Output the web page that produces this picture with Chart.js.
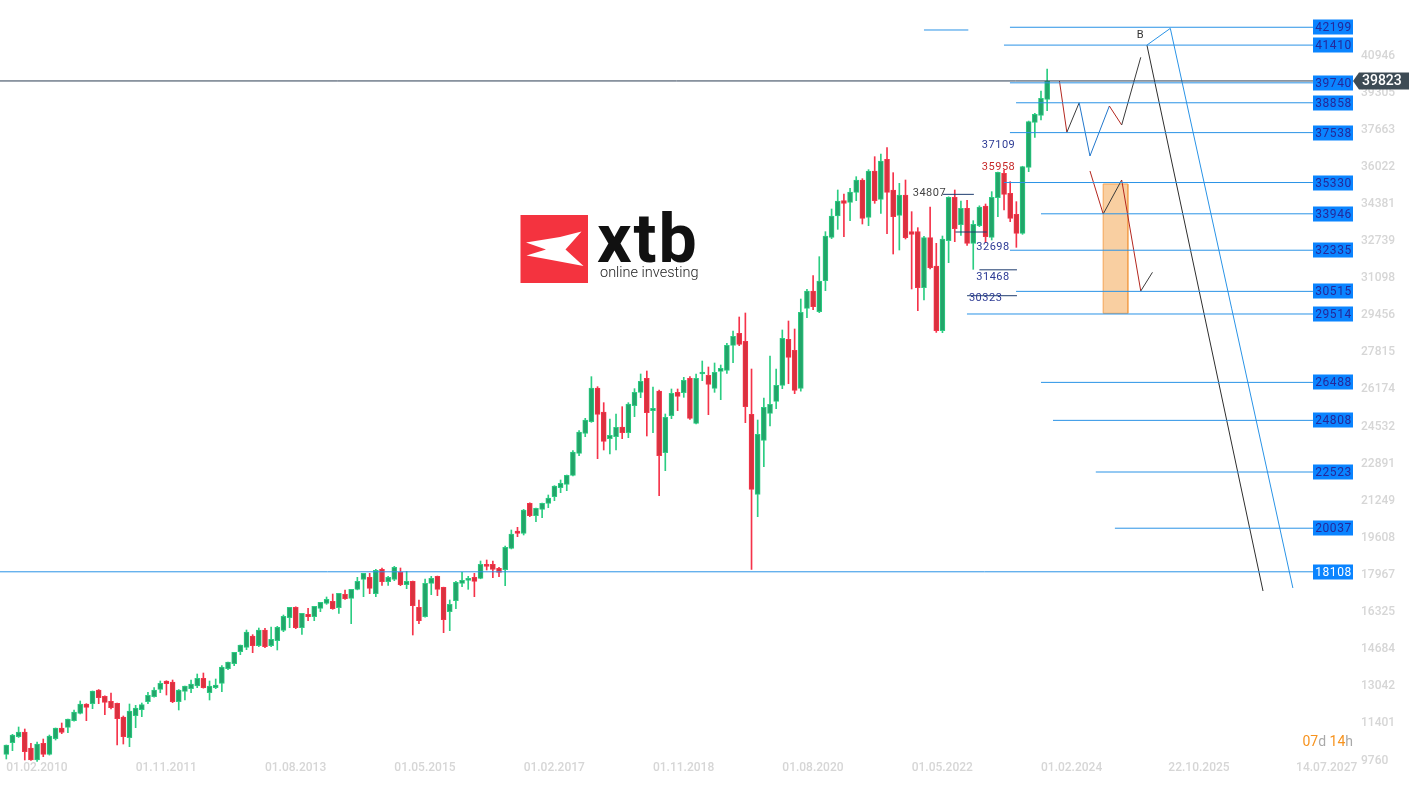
<!DOCTYPE html>
<html>
<head>
<meta charset="utf-8">
<script src="https://cdn.jsdelivr.net/npm/chart.js@4.4.1/dist/chart.umd.min.js"></script>
<style>
  html, body { margin: 0; padding: 0; background: #fff; overflow: hidden; }
</style>
</head>
<body>
<canvas id="chart" width="1421" height="785"></canvas>
<script>
// monthly candles, first one = Feb 2010 (x = month index)
const opens = [
  10033, 10549, 10815, 11021, 10313, 9782, 10520, 10033, 10726, 11198,
  11228, 11523, 11847, 12260, 12275, 12879, 12599, 12378, 12289, 11685,
  10770, 11744, 12009, 12363, 12584, 12909, 13277, 13233, 12363, 12820,
  12938, 13056, 13395, 12761, 12983, 13174, 13823, 14044, 14575, 14767,
  15268, 14841, 15534, 14841, 15062, 15519, 16079, 16537, 15637, 16227,
  16124, 16492, 16713, 16802, 16522, 17112, 16935, 17333, 17775, 17864,
  17141, 18218, 17672, 17775, 18085, 17539, 17687, 16537, 16124, 17598,
  17908, 17421, 16345, 16831, 17598, 17731, 17864, 17820, 18439, 18439,
  18262, 18200, 19147, 19914, 19811, 21138, 20592, 20872, 21138, 21433,
  21831, 21978, 22377, 23350, 24235, 24751, 26240, 25178, 23999, 24087,
  24515, 24264, 25459, 26049, 26668, 25237, 26108, 23379, 25016, 26049,
  26034, 26668, 24677, 26859, 26800, 26225, 26977, 27021, 28127, 28658,
  28304, 25075, 21535, 23925, 25119, 25650, 26358, 28393, 27906, 26225,
  29764, 30531, 29617, 30988, 32905, 33849, 34528, 34454, 34896, 35442,
  33790, 35840, 34587, 36356, 35000, 33879, 34778, 33156, 33156, 30679,
  32891, 31637, 28776, 32758, 34675, 33466, 34188, 32640, 33422, 34292,
  32906, 34660, 35737, 34852, 33923, 33083, 36002, 37993, 38303, 39011
];
const highs = [
  10446, 10918, 11242, 11154, 10520, 10579, 10711, 10888, 11198, 11419,
  11596, 11995, 12393, 12275, 12835, 12900, 12620, 12747, 12300, 11729,
  12260, 12201, 12304, 12776, 12983, 13277, 13290, 13322, 12900, 13056,
  13322, 13587, 13631, 13277, 13366, 13956, 14118, 14546, 14870, 15534,
  15327, 15622, 15607, 15666, 15696, 16197, 16537, 16560, 16271, 16492,
  16581, 16758, 16994, 17126, 17156, 17303, 17333, 17864, 18041, 18041,
  18218, 18277, 17908, 18350, 18277, 18129, 17700, 16861, 17790, 17908,
  17920, 17430, 16861, 17687, 18085, 17908, 18041, 18586, 18631, 18586,
  18306, 19250, 19958, 20076, 20870, 21160, 20930, 21150, 21506, 21920,
  22170, 22390, 23468, 24353, 24898, 26742, 26299, 25591, 24869, 25090,
  25414, 25591, 26211, 26860, 26992, 26284, 26150, 25090, 26196, 26196,
  26712, 26742, 26859, 27434, 27169, 27346, 27257, 28216, 28762, 29381,
  29558, 27080, 24824, 25797, 27656, 27080, 28806, 29204, 28850, 30177,
  30600, 31210, 32050, 33156, 34159, 35000, 34823, 35073, 35589, 35500,
  35900, 36474, 36592, 36872, 35766, 35294, 35442, 34041, 33333, 32950,
  34247, 32640, 32964, 34700, 35000, 34513, 34542, 33643, 34300, 34380,
  34926, 35790, 35884, 35368, 34484, 36050, 38050, 38391, 39380, 40353
];
const lows = [
  9827, 10195, 10780, 9782, 9760, 9720, 9930, 10000, 10667, 10947,
  10992, 11500, 11820, 11523, 12053, 12275, 11788, 12039, 10446, 10490,
  10372, 11213, 11700, 12275, 12560, 12761, 12658, 12319, 11995, 12437,
  12761, 12983, 12960, 12437, 12938, 12806, 13779, 13956, 14442, 14664,
  14531, 14796, 14750, 14796, 14649, 15460, 15637, 15593, 15342, 15947,
  15947, 16345, 16669, 16450, 16271, 16890, 15814, 17310, 17008, 17141,
  17008, 17510, 17510, 17716, 17495, 17362, 15313, 15814, 16100, 17097,
  17053, 15416, 15504, 16478, 17451, 17333, 17008, 17800, 18188, 17849,
  17893, 17500, 19120, 19663, 19737, 20548, 20327, 20504, 20946, 21256,
  21610, 21698, 22350, 23247, 24087, 24720, 23114, 23497, 23320, 23497,
  23999, 24043, 24972, 25813, 24117, 24264, 21477, 22583, 24884, 25237,
  25827, 24850, 24650, 26564, 25060, 26048, 25724, 26889, 27361, 28113,
  24706, 18213, 20547, 22759, 24559, 25325, 26210, 26432, 25989, 26100,
  29351, 29700, 29573, 30546, 32850, 33259, 32935, 33643, 34528, 33495,
  33422, 34410, 33967, 33068, 32168, 32345, 32832, 30620, 29661, 30133,
  31504, 28700, 28688, 31785, 32714, 32994, 32550, 31490, 33377, 32670,
  32788, 33820, 34115, 33599, 32463, 33038, 35811, 37330, 38097, 38509
];
const closes = [
  10446, 10888, 11021, 10151, 9790, 10490, 10033, 10844, 11198, 11006,
  11596, 11906, 12260, 12112, 12835, 12540, 12334, 12098, 11611, 10815,
  11950, 12083, 12230, 12643, 12879, 13174, 13160, 12363, 12879, 13056,
  13145, 13395, 12983, 13056, 13101, 13897, 14118, 14546, 14870, 15445,
  14841, 15534, 14796, 15121, 15652, 16138, 16537, 15637, 16271, 16124,
  16581, 16758, 16890, 16478, 17156, 16920, 17333, 17687, 18041, 17377,
  18173, 17672, 17864, 18306, 17539, 17687, 16610, 15947, 17598, 17820,
  17333, 15991, 16669, 17643, 17731, 17820, 17687, 18439, 18350, 18218,
  18085, 19191, 19781, 19811, 20843, 20592, 20917, 21138, 21374, 21905,
  22023, 22377, 23409, 24294, 24825, 26240, 25075, 23881, 24146, 24500,
  24264, 25532, 26049, 26535, 25149, 25341, 23247, 24943, 26004, 25872,
  26579, 24898, 26667, 26948, 26402, 26933, 27110, 28127, 28526, 28172,
  25414, 21757, 24190, 25384, 25517, 26358, 28437, 27597, 26137, 29587,
  30531, 29838, 30974, 32964, 33849, 34513, 34410, 34911, 35442, 33746,
  35840, 34528, 36283, 34896, 33820, 34778, 32891, 33038, 30679, 32891,
  31563, 28776, 32832, 34675, 33289, 34188, 32640, 33481, 34247, 32935,
  34675, 35781, 34808, 33746, 33083, 36032, 38023, 38347, 39055, 39823
];

const xTickPos = [0, 21, 42, 63, 84, 105, 126, 147, 168, 188.68, 209.42];
const xTickLabels = ['01.02.2010', '01.11.2011', '01.08.2013', '01.05.2015', '01.02.2017',
  '01.11.2018', '01.08.2020', '01.05.2022', '01.02.2024', '22.10.2025', '14.07.2027'];
const yTicks = [9760, 11401, 13042, 14684, 16325, 17967, 19608, 21249, 22891, 24532,
  26174, 27815, 29456, 31098, 32739, 34381, 36022, 37663, 39305, 40946];

const lastPrice = 39823;

// horizontal levels with their tags on the right
const levels = [42199, 41410, 39740, 38858, 37538, 35330, 33946, 32335, 30515, 29514, 26488, 24808, 22523, 20037, 18108];
const levelFrom = [162.96, 161.99, 162.96, 163.95, 162.96, 161.99, 168, 162.96, 163.95, 155.98, 168, 169.95, 176.9, 180, -1.2];
const levelTo = 212.16;

// drawn projections
const waveUpX = [171, 172.2, 174.2, 175.95, 179.1, 181.1, 184.2];
const waveUpY = [39821, 37552, 38861, 36503, 38716, 37875, 40870];
const waveDownX = [175.95, 178.1, 181.1, 184.2, 186.1];
const waveDownY = [35840, 33937, 35442, 30531, 31358];
const channelBlackX = [185.2, 204.05];
const channelBlackY = [41410, 17259];
const channelBlueX = [185.2, 189, 208.9];
const channelBlueY = [41410, 42150, 17392];
const zoneX = [178.1, 182.1];
const zoneY = [29544, 35265];

// small marks with numbers
const markText = ['34807', '37109', '35958', '32698', '31468', '30323'];
const markX = [152.6, 158.4, 158.4, 157.5, 157.5, 156.3];
const markY = [34867, 36990, 36017, 32478, 31151, 30222];
const segFrom = [152.1, 154.1, 158, 156];
const segTo = [157.1, 159.2, 164.1, 164.1];
const segY = [34807, 33141, 31468, 30323];

const GREEN = '#22a56a', GREEN_EDGE = '#2bcd82';
const RED = '#d9323f', RED_EDGE = '#f5334a';
const LEVEL = '#2a93e6';
const WAVE_RED = '#b3261e', WAVE_DARK = '#3b3b3b', WAVE_BLUE = '#2277cc';

const up = opens.map((o, i) => closes[i] >= o);
const wicks = opens.map((o, i) => ({ x: i, y: [lows[i], highs[i]] }));
const bodies = opens.map((o, i) => ({ x: i, y: [o, closes[i]] }));

const pts = (xs, ys) => xs.map((x, i) => ({ x: x, y: ys[i] }));
const line = (data, color, extra) => Object.assign({
  type: 'line', data: data, borderColor: color, borderWidth: 1,
  pointRadius: 0, tension: 0, fill: false, order: 1
}, extra || {});

const datasets = [];
// zone
datasets.push(line(pts(zoneX, [zoneY[1], zoneY[1]]), 'rgba(0,0,0,0)', { fill: '+1', backgroundColor: '#f9cfa1', borderWidth: 0, order: 20 }));
datasets.push(line(pts(zoneX, [zoneY[0], zoneY[0]]), 'rgba(0,0,0,0)', { borderWidth: 0, order: 21 }));
datasets.push(line(pts([zoneX[0], zoneX[0], zoneX[1], zoneX[1], zoneX[0]], [zoneY[0], zoneY[1], zoneY[1], zoneY[0], zoneY[0]]), '#f4a352', { order: 19 }));

datasets.push({
  type: 'bar', data: wicks, barThickness: 1, grouped: false, order: 10,
  backgroundColor: up.map(u => u ? GREEN_EDGE : RED_EDGE), borderWidth: 0
});
datasets.push({
  type: 'bar', data: bodies, barThickness: 5, grouped: false, order: 9, minBarLength: 1,
  backgroundColor: up.map(u => u ? GREEN : RED),
  borderColor: up.map(u => u ? GREEN_EDGE : RED_EDGE),
  borderWidth: 1, borderSkipped: false
});

levels.forEach((v, i) => {
  datasets.push(line([{ x: levelFrom[i], y: v }, { x: levelTo, y: v }], LEVEL));
});
datasets.push(line([{ x: 149, y: 42078 }, { x: 156.2, y: 42078 }], LEVEL));
segY.forEach((v, i) => {
  datasets.push(line([{ x: segFrom[i], y: v }, { x: segTo[i], y: v }], '#1d3b6e'));
});
datasets.push(line([{ x: -1.2, y: lastPrice }, { x: 220, y: lastPrice }], '#2b3d52'));

const upColors = [WAVE_RED, WAVE_DARK, WAVE_BLUE, WAVE_BLUE, WAVE_RED, WAVE_DARK];
const downColors = [WAVE_RED, WAVE_DARK, WAVE_RED, WAVE_DARK];
datasets.push(line(pts(waveUpX, waveUpY), WAVE_DARK, { segment: { borderColor: c => upColors[c.p0DataIndex] } }));
datasets.push(line(pts(waveDownX, waveDownY), WAVE_DARK, { segment: { borderColor: c => downColors[c.p0DataIndex] } }));
datasets.push(line(pts(channelBlackX, channelBlackY), '#2e2e2e'));
datasets.push(line(pts(channelBlueX, channelBlueY), LEVEL));

const overlay = {
  id: 'overlay',
  beforeDatasetsDraw(chart) {
    const ctx = chart.ctx;
    ctx.save();
    // xtb watermark
    ctx.fillStyle = '#f4333f';
    ctx.fillRect(520.5, 215, 67.5, 68);
    ctx.fillStyle = '#fff';
    ctx.beginPath();
    ctx.moveTo(526, 242.5);
    ctx.lineTo(560, 237);
    ctx.lineTo(581.5, 231.5);
    ctx.lineTo(565.5, 249.5);
    ctx.lineTo(583.5, 266);
    ctx.lineTo(543.5, 258.5);
    ctx.lineTo(526.5, 255.5);
    ctx.lineTo(546, 249.5);
    ctx.closePath();
    ctx.fill();
    ctx.fillStyle = '#111';
    ctx.font = 'bold 68px Roboto';
    ctx.letterSpacing = '2px';
    ctx.textBaseline = 'alphabetic';
    ctx.textAlign = 'left';
    ctx.fillText('xtb', 597, 262);
    ctx.letterSpacing = '0px';
    ctx.font = '300 14.5px Roboto';
    ctx.fillStyle = '#222';
    ctx.fillText('online investing', 600, 277);
    ctx.restore();
  },
  afterDatasetsDraw(chart) {
    const { ctx, chartArea } = chart;
    const xs = chart.scales.x, ys = chart.scales.y;
    ctx.save();
    // level tags
    ctx.textAlign = 'center';
    ctx.textBaseline = 'middle';
    ctx.font = '12px Roboto';
    ctx.letterSpacing = '0.6px';
    levels.forEach((v, i) => {
      const py = Math.round(ys.getPixelForValue(v));
      const x0 = Math.round(xs.getPixelForValue(levelTo));
      ctx.fillStyle = '#0a84ff';
      ctx.fillRect(x0, py - 7.5, chartArea.right - x0, 15);
      ctx.fillStyle = i === levels.length - 1 ? '#ffffff' : '#25289a';
      ctx.fillText(String(v), (x0 + chartArea.right) / 2 + 0.5, py + 0.5);
    });
    ctx.letterSpacing = '0px';

    // number marks
    ctx.font = '11px Roboto';
    ctx.letterSpacing = '0.5px';
    const markColor = ['#444', '#2c3a94', '#c62828', '#2c3a94', '#2c3a94', '#2c3a94'];
    markText.forEach((t, i) => {
      ctx.fillStyle = markColor[i];
      ctx.textAlign = i === 0 ? 'right' : 'left';
      ctx.fillText(t, xs.getPixelForValue(markX[i]), ys.getPixelForValue(markY[i]));
    });
    ctx.letterSpacing = '0px';
    ctx.fillStyle = '#333';
    ctx.textAlign = 'center';
    ctx.font = '11px Roboto';
    ctx.fillText('B', xs.getPixelForValue(184.1), ys.getPixelForValue(41856));

    // last price tag
    const py = ys.getPixelForValue(lastPrice);
    const r = chartArea.right;
    ctx.fillStyle = '#3d4b55';
    ctx.beginPath();
    ctx.moveTo(r, py);
    ctx.lineTo(r + 6, py - 8.5);
    ctx.lineTo(1409, py - 8.5);
    ctx.lineTo(1409, py + 8.5);
    ctx.lineTo(r + 6, py + 8.5);
    ctx.closePath();
    ctx.fill();
    ctx.fillStyle = '#fff';
    ctx.font = '500 14px Roboto';
    ctx.textAlign = 'left';
    ctx.fillText(String(lastPrice), r + 9, py + 0.5);

    // candle timer
    ctx.font = '14px Roboto';
    ctx.textBaseline = 'alphabetic';
    const parts = [['07', '#f7931e'], ['d ', '#a9a9a9'], ['14', '#f7931e'], ['h', '#a9a9a9']];
    let tx = r - parts.reduce((s, p) => s + ctx.measureText(p[0]).width, 0);
    parts.forEach(p => {
      ctx.fillStyle = p[1];
      ctx.fillText(p[0], tx, 746);
      tx += ctx.measureText(p[0]).width;
    });
    ctx.restore();
  }
};

Chart.defaults.font.family = "Roboto, 'Noto Sans', sans-serif";

new Chart(document.getElementById('chart'), {
  type: 'bar',
  data: { datasets: datasets },
  options: {
    responsive: false,
    animation: false,
    layout: { padding: 0 },
    plugins: { legend: { display: false }, tooltip: { enabled: false } },
    scales: {
      x: {
        type: 'linear', min: -1.023, max: 218.66, offset: false,
        grid: { display: false, drawTicks: false }, border: { display: false },
        afterBuildTicks: s => { s.ticks = xTickPos.map(v => ({ value: v })); },
        afterFit: s => { s.height = 23; s.paddingLeft = 0; s.paddingRight = 0; },
        ticks: {
          autoSkip: false, maxRotation: 0, align: 'start', padding: 0,
          color: '#d6d6d6', font: { size: 12, weight: '500', lineHeight: 1 },
          callback: (v, i) => xTickLabels[i]
        }
      },
      y: {
        type: 'linear', position: 'right', min: 9694, max: 43405,
        grid: { display: false, drawTicks: false }, border: { display: false },
        afterBuildTicks: s => { s.ticks = yTicks.map(v => ({ value: v })); },
        afterFit: s => { s.width = 68; s.paddingTop = 0; s.paddingBottom = 0; },
        ticks: {
          padding: 8, color: '#d6d6d6', font: { size: 12, weight: '500' },
          callback: v => String(v)
        }
      }
    }
  },
  plugins: [overlay]
});
</script>
</body>
</html>
